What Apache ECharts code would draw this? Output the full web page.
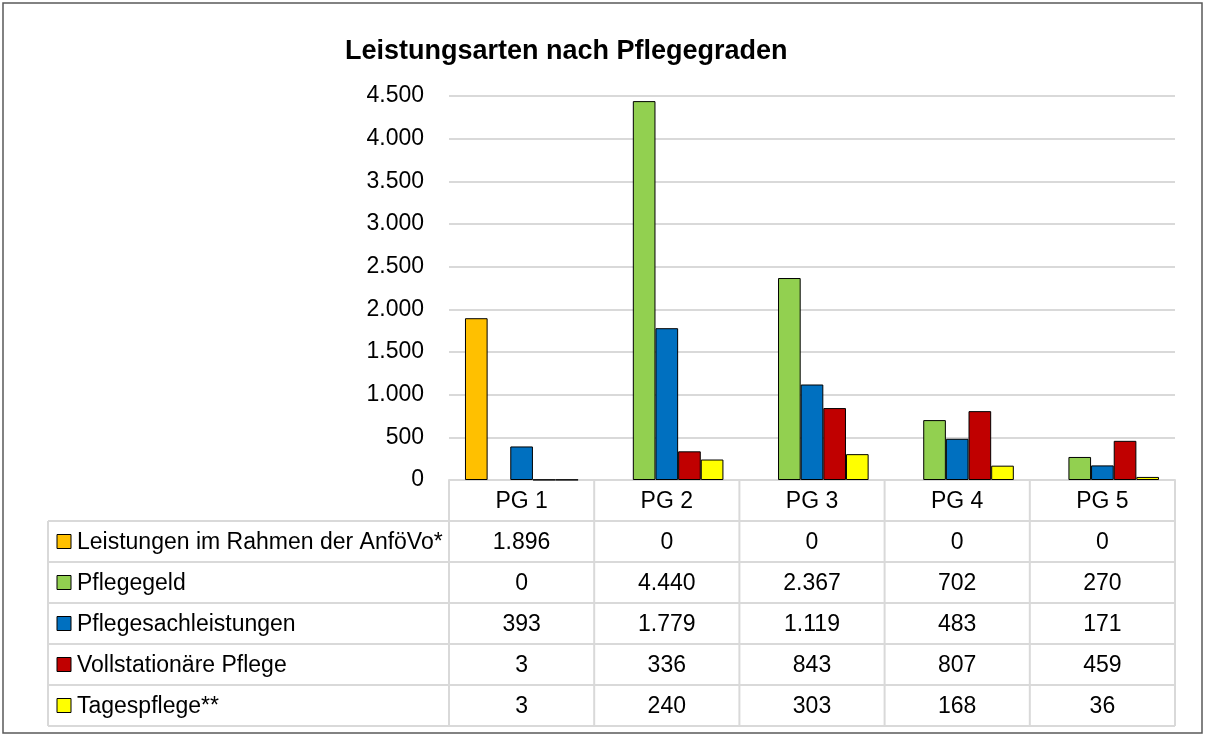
<!DOCTYPE html>
<html><head><meta charset="utf-8">
<script src="https://cdn.jsdelivr.net/npm/echarts@6/dist/echarts.min.js"></script>
<style>html,body{margin:0;padding:0;background:#fff}#c{width:1205px;height:736px}</style>
</head><body><div id="c"></div>
<script>
const title = 'Leistungsarten nach Pflegegraden';
const categories = ['PG 1', 'PG 2', 'PG 3', 'PG 4', 'PG 5'];
const seriesNames = ['Leistungen im Rahmen der AnföVo*', 'Pflegegeld', 'Pflegesachleistungen', 'Vollstationäre Pflege', 'Tagespflege**'];
const anfoevo = [1896, 0, 0, 0, 0];
const pflegegeld = [0, 4440, 2367, 702, 270];
const sachleistungen = [393, 1779, 1119, 483, 171];
const vollstationaer = [3, 336, 843, 807, 459];
const tagespflege = [3, 240, 303, 168, 36];
const colors = ['#FFC000', '#92D050', '#0070C0', '#C00000', '#FFFF00'];
const yMin = 0, yMax = 4500, yInterval = 500;

const values = [anfoevo, pflegegeld, sachleistungen, vollstationaer, tagespflege];
const FONT = '"Liberation Sans", Arial, sans-serif';
const FS = 23;
const fmt = v => String(v).replace(/\B(?=(\d{3})+(?!\d))/g, '.');

const G = {left: 449, right: 30, top: 96, bottom: 256};
const W = 1205, H = 736;
const rowH = 41;
const tableLeft = 48;

const chart = echarts.init(document.getElementById('c'), null, {renderer: 'canvas'});

const option = {
  animation: false,
  backgroundColor: '#fff',
  title: {
    text: title, left: 340, top: 33,
    textStyle: {fontFamily: FONT, fontWeight: 'bold', fontSize: 27, color: '#000'}
  },
  grid: {left: G.left, right: G.right, top: G.top, bottom: G.bottom, containLabel: false},
  xAxis: {
    type: 'category', data: categories,
    axisLine: {show: true, lineStyle: {color: '#D9D9D9', width: 2}},
    axisTick: {show: false},
    axisLabel: {show: true, margin: 10, fontFamily: FONT, fontSize: FS, color: '#000'},
    splitLine: {show: false}
  },
  yAxis: {
    type: 'value', min: yMin, max: yMax, interval: yInterval,
    axisLine: {show: false}, axisTick: {show: false},
    axisLabel: {margin: 25, fontFamily: FONT, fontSize: FS, color: '#000', formatter: v => fmt(v)},
    splitLine: {lineStyle: {color: '#D9D9D9', width: 2}}
  },
  series: seriesNames.map((n, i) => ({
    name: n, type: 'bar',
    data: values[i].map(v => ({value: v, itemStyle: {borderWidth: v === 0 ? 0 : 1}})),
    barGap: '0%', barCategoryGap: '22%',
    itemStyle: {color: colors[i], borderColor: '#000', borderWidth: 1},
    emphasis: {disabled: true}
  })),
  graphic: []
};
chart.setOption(option);

// build data table from arrays
const colX = categories.map((c, i) => chart.convertToPixel({xAxisIndex: 0}, i));
const gLeft = G.left, gRight = W - G.right;
const zeroY = chart.convertToPixel({yAxisIndex: 0}, 0);
const colW = (gRight - gLeft) / categories.length;
const headerTop = zeroY;
const bodyTop = headerTop + rowH;
const tableBottom = bodyTop + seriesNames.length * rowH;
const els = [];
const lineStyle = {stroke: '#D9D9D9', lineWidth: 2};
// outer border
els.push({type: 'rect', shape: {x: 3, y: 3, width: W - 6, height: H - 6}, style: {fill: null, stroke: '#595959', lineWidth: 1.5}, silent: true});
// horizontal lines
for (let r = 0; r <= seriesNames.length; r++) {
  const y = bodyTop + r * rowH;
  els.push({type: 'line', shape: {x1: tableLeft, y1: y, x2: gRight, y2: y}, style: lineStyle, silent: true});
}
// vertical lines
els.push({type: 'line', shape: {x1: tableLeft, y1: bodyTop, x2: tableLeft, y2: tableBottom}, style: lineStyle, silent: true});
for (let c = 0; c <= categories.length; c++) {
  const x = gLeft + c * colW;
  els.push({type: 'line', shape: {x1: x, y1: headerTop, x2: x, y2: tableBottom}, style: lineStyle, silent: true});
}
// row labels and values
seriesNames.forEach((n, r) => {
  const cy = bodyTop + r * rowH + rowH / 2;
  els.push({type: 'rect', shape: {x: 57, y: cy - 7, width: 14, height: 14}, style: {fill: colors[r], stroke: '#000', lineWidth: 1}, silent: true});
  els.push({type: 'text', x: 77, y: cy + 1, style: {text: n, fontFamily: FONT, fontSize: FS, fill: '#000', align: 'left', verticalAlign: 'middle'}, silent: true});
  values[r].forEach((v, c) => {
    els.push({type: 'text', x: colX[c], y: cy + 1, style: {text: fmt(v), fontFamily: FONT, fontSize: FS, fill: '#000', align: 'center', verticalAlign: 'middle'}, silent: true});
  });
});
chart.setOption({graphic: els});
</script></body></html>
